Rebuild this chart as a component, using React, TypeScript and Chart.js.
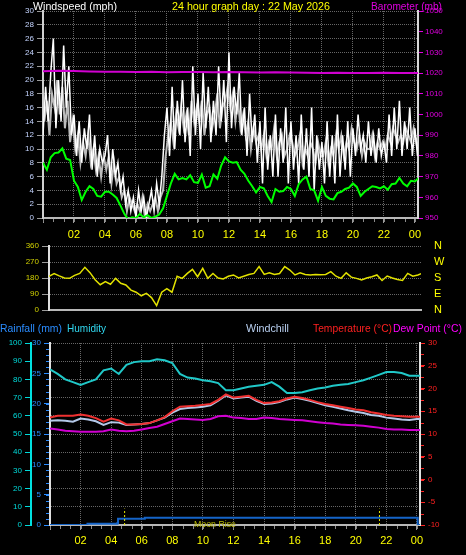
import React, { useEffect, useRef } from 'react';
import { Chart, registerables } from 'chart.js';

Chart.register(...registerables);

const FONT = '"Liberation Sans", Arial, Helvetica, sans-serif';
const HOUR_MIN = 0;
const HOUR_MAX = 24.2;
const HOUR_STEP = 2;
const HOUR_MINOR_STEP = 2 / 3;

// ---------- Panel 1: wind speed (mph) and barometer (mb) ----------
const GUST_STEP = 1 / 6; // 10-minute samples
const gustMph = [
  12, 19, 14, 21, 26, 13,
  20, 14, 25, 16, 22, 12,
  15, 9, 14, 8, 13, 10,
  15, 7, 12, 6, 10, 8,
  9, 12, 5, 10, 6, 8,
  4, 6, 2, 4, 1, 3,
  0, 4, 1, 3, 0, 2,
  4, 1, 5, 2, 6, 12,
  16, 9, 19, 10, 17, 12,
  20, 11, 16, 9, 22, 12,
  18, 10, 21, 13, 19, 11,
  17, 12, 22, 14, 20, 11,
  24, 13, 19, 15, 21, 12,
  16, 9, 18, 11, 15, 8,
  14, 5, 16, 7, 12, 6,
  15, 6, 13, 8, 16, 5,
  14, 7, 12, 5, 15, 7,
  13, 6, 16, 4, 12, 7,
  11, 5, 14, 6, 12, 5,
  15, 6, 12, 7, 14, 6,
  13, 9, 15, 10, 12, 8,
  14, 9, 12, 8, 13, 9,
  11, 8, 15, 9, 16, 10,
  17, 9, 14, 10, 16, 9,
  13, 9, 14,
];
const speedMph = [
  14, 17, 12, 18, 16, 20,
  15, 19, 13, 17, 11, 14,
  10, 12, 8, 11, 9, 12,
  8, 10, 7, 9, 6, 9,
  7, 9, 5, 8, 5, 6,
  3, 4, 1, 3, 2, 1,
  2, 1, 3, 0, 2, 1,
  2, 3, 1, 3, 4, 9,
  12, 14, 11, 15, 13, 16,
  13, 15, 12, 17, 14, 16,
  14, 17, 12, 15, 16, 13,
  15, 18, 13, 16, 17, 19,
  16, 18, 14, 17, 13, 15,
  12, 14, 10, 13, 11, 12,
  10, 12, 9, 11, 10, 13,
  9, 11, 12, 9, 10, 12,
  11, 9, 10, 12, 8, 10,
  9, 11, 10, 8, 11, 9,
  9, 11, 8, 10, 9, 12,
  10, 12, 9, 11, 10, 13,
  11, 10, 12, 9, 11, 10,
  10, 12, 9, 11, 10, 11,
  10, 12, 11, 13, 12, 11,
  12, 11, 13, 12, 11, 13,
  11, 12, 10,
];
const AVG_STEP = 0.25; // 15-minute samples
const avgMph = [
  8.0, 7.0, 8.8, 9.4, 9.5, 10.1, 8.6, 8.4,
  5.4, 4.5, 2.6, 3.8, 4.6, 4.2, 3.2, 3.1,
  3.8, 3.8, 3.4, 2.9, 1.8, 0.6, -0.2, 0.1,
  0.0, 0.6, 0.1, 0.4, 0.0, 0.2, 0.5, 1.4,
  3.2, 5.0, 6.4, 5.6, 5.8, 5.6, 6.2, 5.2,
  5.1, 6.3, 4.4, 4.6, 6.3, 5.7, 7.6, 8.8,
  8.2, 8.0, 8.1, 7.0, 6.4, 5.4, 4.6, 3.7,
  4.5, 4.3, 3.2, 2.3, 4.2, 3.8, 3.9, 4.5,
  4.2, 3.2, 4.9, 5.6, 6.0, 4.2, 4.0, 2.5,
  4.5, 3.2, 2.8, 2.7, 3.6, 3.8, 4.2, 4.4,
  5.0, 4.5, 3.2, 3.8, 4.2, 4.6, 4.5, 4.3,
  4.6, 4.1, 4.9, 5.0, 5.8, 5.0, 4.6, 5.4,
  5.3, 5.8,
];
const BARO_STEP = 1; // hourly
const baroMb = [
  1020.9, 1021.1, 1021.0, 1020.8, 1020.7, 1020.6, 1020.5, 1020.6,
  1020.4, 1020.5, 1020.5, 1020.4, 1020.5, 1020.4, 1020.3, 1020.4,
  1020.3, 1020.2, 1020.1, 1020.2, 1020.0, 1020.1, 1020.2, 1020.1,
  1020.0, 1020.0,
];
const speedTicks = { min: 0, max: 30, step: 2 };
const baroTicks = { min: 950, max: 1050, step: 10 };

// ---------- Panel 2: wind direction (degrees) ----------
const DIR_STEP = 1 / 3; // 20-minute samples
const directionDeg = [
  190, 205, 192, 180, 178, 195, 206, 240, 210, 170, 142, 160,
  145, 178, 150, 141, 112, 100, 80, 94, 70, 25, 100, 120,
  100, 190, 178, 206, 229, 187, 234, 178, 205, 180, 175, 190,
  197, 180, 190, 200, 206, 244, 200, 209, 200, 205, 244, 225,
  197, 209, 200, 197, 200, 198, 200, 216, 190, 178, 209, 185,
  178, 169, 180, 187, 197, 166, 191, 180, 172, 166, 206, 190,
  197, 209,
];
const compassLabels = ['N', 'E', 'S', 'W', 'N'];
const dirTicks = { min: 0, max: 360, step: 90 };

// ---------- Panel 3: rain, humidity, temperatures ----------
const CLIMATE_STEP = 0.5; // 30-minute samples
const humidityPct = [
  85.5, 83, 80, 78.5, 77, 78.5, 80, 85, 86, 83, 88, 89.5,
  90, 90, 91, 90.5, 89, 83, 81, 80.5, 79.5, 79, 78, 74,
  74, 75, 76, 76.5, 77, 78.5, 76, 72.5, 72.5, 73, 74, 75,
  75.5, 76.5, 77, 77.5, 78.5, 79.5, 81, 82.5, 84, 84, 83.5, 82,
  82, 82,
];
const temperatureC = [
  13.6, 14.0, 14.0, 14.0, 14.3, 14.0, 13.5, 12.7, 13.4, 13.0, 12.1, 12.1,
  12.2, 12.4, 13.0, 13.7, 15.0, 16.0, 16.1, 16.2, 16.4, 16.6, 17.5, 18.7,
  18.0, 18.2, 18.4, 17.5, 16.8, 16.9, 17.2, 17.8, 18.2, 17.9, 17.5, 17.0,
  16.6, 16.3, 16.0, 15.7, 15.4, 15.2, 14.8, 14.5, 14.2, 14.0, 13.9, 13.8,
  13.8, 13.8,
];
const windchillC = [
  12.9, 13.0, 12.9, 12.7, 13.4, 13.2, 12.8, 12.0, 12.6, 12.5, 12.0, 12.1,
  12.2, 12.4, 13.0, 13.6, 14.7, 15.5, 15.7, 15.8, 16.0, 16.3, 17.3, 18.5,
  17.8, 18.0, 18.2, 17.3, 16.6, 16.7, 17.0, 17.6, 18.0, 17.7, 17.3, 16.8,
  16.3, 16.0, 15.6, 15.2, 14.9, 14.6, 14.2, 14.0, 13.6, 13.4, 13.2, 13.1,
  13.3, 13.3,
];
const dewPointC = [
  11.2, 11.0, 10.7, 10.6, 10.5, 10.5, 10.5, 10.6, 11.0, 10.7, 10.6, 10.7,
  11.0, 11.3, 11.6, 12.2, 12.8, 13.4, 13.3, 13.2, 13.1, 13.3, 13.9, 14.0,
  13.6, 13.5, 13.3, 13.3, 13.6, 13.5, 13.3, 13.2, 13.1, 13.0, 12.8, 12.6,
  12.4, 12.3, 12.1, 12.0, 11.9, 11.8, 11.6, 11.4, 11.1, 11.0, 11.0, 10.9,
  10.9, 10.9,
];
const rainHours = [0, 2.45, 4.4, 4.45, 6.2, 24.05, 24.3];
const rainMm = [0, 0.2, 0.3, 1.05, 1.2, 0, 0];
const moonHours = [4.88, 21.55];
const moonMarkerTopPct = 9;
const rainTicks = { min: 0, max: 30, step: 5, minor: 1 };
const humidityTicks = { min: 0, max: 100, step: 10 };
const tempTicks = { min: -10, max: 30, step: 5, minor: 2.5 };

// ---------- helpers ----------
const GRID = '#666666';
const DOT = [1, 1];

const toPoints = (values: number[], step: number, offset = 0) =>
  values.map((y, i) => ({ x: offset + i * step, y }));

const hourLabel = (v: number) => (v === 0 ? '' : String(Math.round(v) % 24).padStart(2, '0'));
const plainLabel = (v: number) => String(v);

type TextItem = { text: string; x: number; y: number; color: string; size: number; maxWidth?: number };

function textPlugin(id: string, items: TextItem[]) {
  return {
    id,
    afterDraw(chart: any) {
      const ctx = chart.ctx as CanvasRenderingContext2D;
      ctx.save();
      ctx.textAlign = 'left';
      ctx.textBaseline = 'alphabetic';
      for (const t of items) {
        ctx.font = `${t.size}px ${FONT}`;
        ctx.fillStyle = t.color;
        if (t.maxWidth) ctx.fillText(t.text, t.x, t.y, t.maxWidth);
        else ctx.fillText(t.text, t.x, t.y);
      }
      ctx.restore();
    },
  };
}

type MinorTick = { scaleId: string; step: number; length: number; color: string };

// small secondary tick marks along an axis, placed through the scale itself
function minorTickPlugin(id: string, items: MinorTick[]) {
  return {
    id,
    afterDraw(chart: any) {
      const ctx = chart.ctx as CanvasRenderingContext2D;
      ctx.save();
      ctx.lineWidth = 1;
      for (const m of items) {
        const s = chart.scales[m.scaleId];
        if (!s) continue;
        ctx.strokeStyle = m.color;
        ctx.beginPath();
        const n = Math.floor((s.max - s.min) / m.step + 1e-6);
        for (let i = 0; i <= n; i++) {
          const v = s.min + i * m.step;
          const p = Math.round(s.getPixelForValue(v)) + 0.5;
          if (s.isHorizontal()) {
            ctx.moveTo(p, s.top + 1);
            ctx.lineTo(p, s.top + 1 + m.length);
          } else if (s.position === 'left') {
            ctx.moveTo(s.right - 1 - m.length, p);
            ctx.lineTo(s.right - 1, p);
          } else {
            ctx.moveTo(s.left + 1, p);
            ctx.lineTo(s.left + 1 + m.length, p);
          }
        }
        ctx.stroke();
      }
      ctx.restore();
    },
  };
}

function hourAxis(height: number, showLabels: boolean, pad: number, showGrid: boolean) {
  return {
    type: 'linear',
    min: HOUR_MIN,
    max: HOUR_MAX,
    afterFit: (s: any) => {
      s.height = height;
    },
    ticks: {
      display: showLabels,
      stepSize: HOUR_STEP,
      includeBounds: false,
      autoSkip: false,
      maxRotation: 0,
      minRotation: 0,
      color: '#ffff00',
      font: { size: 11, family: FONT },
      padding: pad,
      callback: hourLabel,
    },
    grid: {
      display: showGrid,
      color: GRID,
      tickColor: '#9a9a9a',
      tickLength: 5,
    },
    border: { color: '#b8b8b8', width: 2, dash: DOT },
  };
}

function valueAxis(opts: {
  position: 'left' | 'right';
  range: { min: number; max: number; step: number };
  width: number;
  color: string;
  tickColor: string;
  tickLength: number;
  padding: number;
  onArea: boolean;
  borderColor: string;
  weight?: number;
  size?: number;
  callback?: (v: any, i: number) => string;
  showBorder?: boolean;
}) {
  return {
    type: 'linear',
    position: opts.position,
    weight: opts.weight ?? 0,
    min: opts.range.min,
    max: opts.range.max,
    afterFit: (s: any) => {
      s.width = opts.width;
    },
    ticks: {
      stepSize: opts.range.step,
      autoSkip: false,
      includeBounds: false,
      color: opts.color,
      font: { size: opts.size ?? 8, family: FONT },
      padding: opts.padding,
      callback: opts.callback ?? plainLabel,
    },
    grid: {
      drawOnChartArea: opts.onArea,
      drawTicks: true,
      color: GRID,
      tickColor: opts.tickColor,
      tickLength: opts.tickLength,
    },
    border: { display: opts.showBorder ?? true, color: opts.borderColor, width: 2, dash: DOT },
  };
}

const baseOptions = {
  responsive: false,
  maintainAspectRatio: false,
  animation: false,
  devicePixelRatio: 1,
  events: [],
  elements: { point: { radius: 0 }, line: { tension: 0 } },
  plugins: { legend: { display: false }, tooltip: { enabled: false } },
};

function windConfig(): any {
  return {
    type: 'line',
    data: {
      datasets: [
        { label: 'Barometer', data: toPoints(baroMb, BARO_STEP), borderColor: '#d000d0', borderWidth: 2, yAxisID: 'yBaro' },
        { label: 'Average speed', data: toPoints(avgMph, AVG_STEP), borderColor: '#00ff00', borderWidth: 2, yAxisID: 'ySpeed' },
        { label: 'Gust', data: toPoints(gustMph, GUST_STEP), borderColor: '#ffffff', borderWidth: 1.5, yAxisID: 'ySpeed' },
        { label: 'Speed', data: toPoints(speedMph, GUST_STEP, GUST_STEP / 2), borderColor: '#bcbcbc', borderWidth: 2, yAxisID: 'ySpeed' },
      ],
    },
    options: {
      ...baseOptions,
      layout: { padding: { top: 11, left: 0, right: 0, bottom: 0 } },
      scales: {
        x: hourAxis(28, true, 5, true),
        ySpeed: valueAxis({
          position: 'left', range: speedTicks, width: 43, color: '#c4d4ff', tickColor: '#9a9a9a',
          tickLength: 6, padding: 3, onArea: true, borderColor: '#d0d0d0', size: 8,
        }),
        yBaro: valueAxis({
          position: 'right', range: baroTicks, width: 48, color: '#e000e0', tickColor: '#e000e0',
          tickLength: 5, padding: 2, onArea: false, borderColor: '#d8d8d8', size: 8,
        }),
      },
    },
    plugins: [
      minorTickPlugin('windMinor', [{ scaleId: 'x', step: HOUR_MINOR_STEP, length: 3, color: '#8a8a8a' }]),
      textPlugin('windTitles', [
        { text: 'Windspeed (mph)', x: 33, y: 10, color: '#ffffff', size: 11, maxWidth: 84 },
        { text: '24 hour graph day : 22 May 2026', x: 172, y: 10, color: '#ffff00', size: 11, maxWidth: 158 },
        { text: 'Barometer (mb)', x: 371, y: 10, color: '#e000e0', size: 11, maxWidth: 71 },
      ]),
    ],
  };
}

function dirConfig(): any {
  return {
    type: 'line',
    data: {
      datasets: [
        { label: 'Direction', data: toPoints(directionDeg, DIR_STEP), borderColor: '#e2e200', borderWidth: 1.5, yAxisID: 'yDir' },
      ],
    },
    options: {
      ...baseOptions,
      layout: { padding: { top: 8, left: 0, right: 0, bottom: 0 } },
      scales: {
        x: { ...hourAxis(8, false, 0, false), border: { color: '#b8b8b8', width: 2 } },
        yDir: valueAxis({
          position: 'left', range: dirTicks, width: 49, color: '#d0d000', tickColor: '#9a9a9a',
          tickLength: 7, padding: 3, onArea: true, borderColor: '#e0e0e0', size: 8,
        }),
        yCompass: valueAxis({
          position: 'right', range: dirTicks, width: 45, color: '#ffff00', tickColor: 'rgba(0,0,0,0)',
          tickLength: 13, padding: 0, onArea: false, borderColor: '#000000', size: 11,
          callback: (_v: any, i: number) => compassLabels[i], showBorder: false,
        }),
      },
    },
  };
}

function climateConfig(): any {
  const moonSets = moonHours.map((h, i) => ({
    label: 'Moon ' + i,
    data: [
      { x: h, y: 0 },
      { x: h, y: moonMarkerTopPct },
    ],
    borderColor: '#e8e800',
    borderWidth: 1,
    borderDash: [2, 2],
    yAxisID: 'yHum',
  }));
  return {
    type: 'line',
    data: {
      datasets: [
        ...moonSets,
        { label: 'Temperature', data: toPoints(temperatureC, CLIMATE_STEP), borderColor: '#f03030', borderWidth: 2, yAxisID: 'yTemp' },
        { label: 'Windchill', data: toPoints(windchillC, CLIMATE_STEP), borderColor: '#b4c8e8', borderWidth: 2, yAxisID: 'yTemp' },
        { label: 'Dew Point', data: toPoints(dewPointC, CLIMATE_STEP), borderColor: '#d000d0', borderWidth: 2, yAxisID: 'yTemp' },
        { label: 'Humidity', data: toPoints(humidityPct, CLIMATE_STEP), borderColor: '#20c8c8', borderWidth: 2, yAxisID: 'yHum' },
        {
          label: 'Rainfall',
          data: rainHours.map((x, i) => ({ x, y: rainMm[i] })),
          borderColor: '#1464c8',
          borderWidth: 2,
          stepped: 'before',
          yAxisID: 'yRain',
        },
      ],
    },
    options: {
      ...baseOptions,
      layout: { padding: { top: 25, left: 0, right: 0, bottom: 0 } },
      scales: {
        x: hourAxis(30, true, 4, true),
        yRain: valueAxis({
          position: 'left', range: rainTicks, width: 19, weight: 0, color: '#2a8cff', tickColor: '#2a8cff',
          tickLength: 6, padding: 3, onArea: false, borderColor: '#e0e0e0', size: 8,
        }),
        yHum: valueAxis({
          position: 'left', range: humidityTicks, width: 31, weight: 1, color: '#00dada', tickColor: '#00dada',
          tickLength: 6, padding: 3, onArea: true, borderColor: '#00e0e0', size: 8,
        }),
        yTemp: valueAxis({
          position: 'right', range: tempTicks, width: 46, color: '#ff2020', tickColor: '#ff2020',
          tickLength: 5, padding: 3, onArea: false, borderColor: '#e0e0e0', size: 8,
        }),
      },
    },
    plugins: [
      minorTickPlugin('climateMinor', [
        { scaleId: 'x', step: HOUR_MINOR_STEP, length: 3, color: '#8a8a8a' },
        { scaleId: 'yRain', step: rainTicks.minor, length: 3, color: '#2a8cff' },
        { scaleId: 'yTemp', step: tempTicks.minor, length: 3, color: '#ff2020' },
      ]),
      textPlugin('climateTitles', [
        { text: 'Rainfall (mm)', x: 0, y: 14, color: '#2a8cff', size: 11, maxWidth: 62 },
        { text: 'Humidity', x: 67, y: 14, color: '#30d8f0', size: 11, maxWidth: 39 },
        { text: 'Windchill', x: 246, y: 14, color: '#b8cff0', size: 11, maxWidth: 43 },
        { text: 'Temperature (°C)', x: 313, y: 14, color: '#ff2020', size: 11, maxWidth: 79 },
        { text: 'Dew Point (°C)', x: 393, y: 14, color: '#ff00ff', size: 11, maxWidth: 69 },
        { text: 'Moon Rise', x: 194, y: 209, color: '#b8b800', size: 9, maxWidth: 42 },
      ]),
    ],
  };
}

function ChartCanvas({ top, height, build }: { top: number; height: number; build: () => any }) {
  const ref = useRef<HTMLCanvasElement>(null);
  useEffect(() => {
    const canvas = ref.current;
    if (!canvas) return;
    const chart = new Chart(canvas, build());
    return () => chart.destroy();
  }, [build]);
  return (
    <canvas
      ref={ref}
      width={466}
      height={height}
      style={{ position: 'absolute', left: 0, top, width: 466, height, display: 'block' }}
    />
  );
}

export default function App() {
  return (
    <div
      style={{
        position: 'fixed',
        left: 0,
        top: 0,
        width: 466,
        height: 555,
        background: '#000000',
        overflow: 'hidden',
      }}
    >
      <ChartCanvas top={0} height={246} build={windConfig} />
      <ChartCanvas top={238} height={80} build={dirConfig} />
      <ChartCanvas top={318} height={237} build={climateConfig} />
    </div>
  );
}
